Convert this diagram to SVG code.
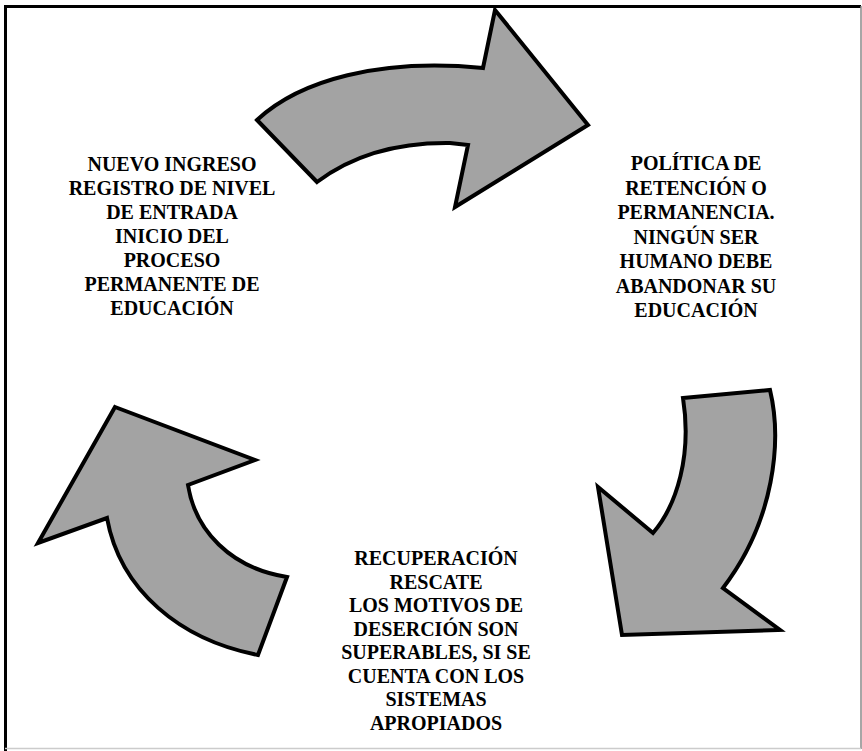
<svg xmlns="http://www.w3.org/2000/svg" width="862" height="751" viewBox="0 0 862 751">
<style>
.arrow{fill:#a3a3a3;stroke:#000;stroke-width:4;stroke-linejoin:miter;stroke-miterlimit:10}
.lbl{font-family:"Liberation Serif","Times New Roman",serif;font-weight:bold;font-size:20px;fill:#000;text-anchor:middle}
</style>
<rect x="0" y="0" width="862" height="751" fill="#fff"/>
<g id="frame">
<line x1="5.5" y1="6.5" x2="861" y2="6.5" stroke="#000" stroke-width="3"/>
<line x1="5.5" y1="5" x2="5.5" y2="751" stroke="#000" stroke-width="3"/>
<line x1="861" y1="6" x2="861" y2="749" stroke="#888" stroke-width="1.5"/>
<line x1="5" y1="748.5" x2="861" y2="748.5" stroke="#ccc" stroke-width="1.5"/>
</g>
<g id="connectors">
<path id="arrow-top" class="arrow" d="M257,120 C300,80 380,58 483,68 L495,10 L588,125 L455,207 L468,145 L450,143 Q370,142 317,182 Z"/>
<path id="arrow-right" class="arrow" d="M683,398 L770,390 C782,440 775,520 723,588 L780,630 L622,635 L598,487 L653,533 C677,505 692,455 683,398 Z"/>
<path id="arrow-left" class="arrow" d="M115,407 L255,460 L188,485 C195,530 230,568 287,577 L258,655 C180,640 120,590 107,518 L38,543 Z"/>
</g>
<g id="node-ingreso">
<text class="lbl" x="172" y="171">NUEVO INGRESO</text>
<text class="lbl" x="172" y="195">REGISTRO DE NIVEL</text>
<text class="lbl" x="172" y="219">DE ENTRADA</text>
<text class="lbl" x="172" y="243">INICIO DEL</text>
<text class="lbl" x="172" y="267">PROCESO</text>
<text class="lbl" x="172" y="291">PERMANENTE DE</text>
<text class="lbl" x="172" y="315">EDUCACIÓN</text>
</g>
<g id="node-retencion">
<text class="lbl" x="696" y="170">POLÍTICA DE</text>
<text class="lbl" x="696" y="194.5">RETENCIÓN O</text>
<text class="lbl" x="696" y="219">PERMANENCIA.</text>
<text class="lbl" x="696" y="243.5">NINGÚN SER</text>
<text class="lbl" x="696" y="268">HUMANO DEBE</text>
<text class="lbl" x="696" y="292.5">ABANDONAR SU</text>
<text class="lbl" x="696" y="317">EDUCACIÓN</text>
</g>
<g id="node-recuperacion">
<text class="lbl" x="436" y="565">RECUPERACIÓN</text>
<text class="lbl" x="436" y="588.5">RESCATE</text>
<text class="lbl" x="436" y="612">LOS MOTIVOS DE</text>
<text class="lbl" x="436" y="635.5">DESERCIÓN SON</text>
<text class="lbl" x="436" y="659">SUPERABLES, SI SE</text>
<text class="lbl" x="436" y="682.5">CUENTA CON LOS</text>
<text class="lbl" x="436" y="706">SISTEMAS</text>
<text class="lbl" x="436" y="729.5">APROPIADOS</text>
</g>
</svg>
